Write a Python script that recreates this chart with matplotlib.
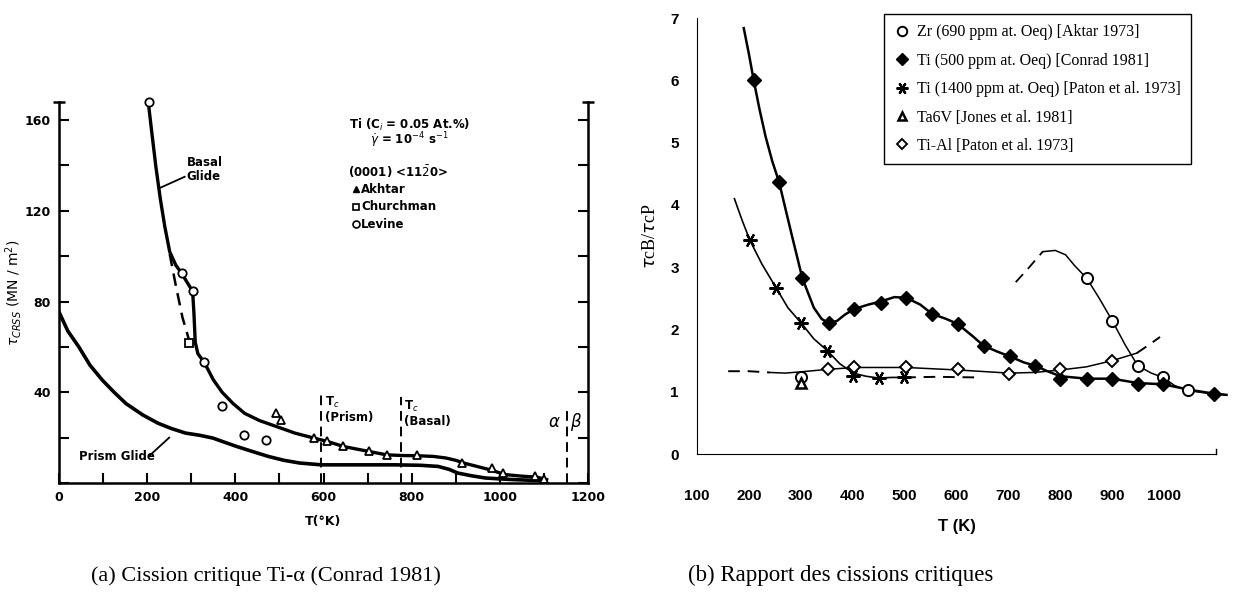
import numpy as np
import matplotlib.pyplot as plt

# ---------------- panel (a): critical resolved shear stress of alpha-Ti
basal_T = [203, 212, 220, 230, 240, 251, 265, 278, 292, 303, 306, 309, 315, 330, 350, 370, 395,
           421, 455, 493, 535, 578, 609, 645, 703, 743, 780, 815, 850, 878, 900, 918, 950,
           976, 1012, 1050, 1083, 1106]
basal_tau = [167, 152, 139, 125, 113, 102, 96, 92.5, 88, 84.6, 75, 62, 57, 53, 45.5, 40, 35,
             30.7, 27.5, 24.9, 22, 19.8, 18.3, 16.1, 13.9, 12.4, 12.1, 12, 11.7, 11, 10, 8.8, 7.2,
             5.9, 3.7, 3.0, 2.6, 1.5]
basal_dash_T = [251, 265, 280, 295, 309]
basal_dash_tau = [101, 87, 73, 63, 60]

prism_T = [0, 20, 45, 70, 98, 125, 152, 190, 224, 255, 287, 320, 349, 375, 403, 440, 475,
           510, 546, 595, 680, 761, 820, 860, 885, 904, 935, 967, 1000, 1030, 1070, 1101]
prism_tau = [75.4, 67, 60, 52, 45.4, 40, 35, 30, 26.4, 24, 22, 21, 19.8, 18, 16.1, 13.8, 11.7,
             10, 8.8, 8, 8, 8, 7.8, 7.3, 6, 4.4, 3.2, 2.2, 1.8, 1.5, 1.2, 1.0]

akhtar_T = [493, 503, 578, 607, 645, 703, 743, 813, 913, 981, 1007, 1079, 1101]
akhtar_tau = [30.7, 27.8, 19.8, 18.3, 16.1, 13.9, 12.4, 12.4, 8.8, 6.6, 4.4, 3.2, 1.8]
churchman_T = [295]
churchman_tau = [61.5]
levine_T = [204, 278, 303, 330, 370, 419, 470]
levine_tau = [168, 92.5, 84.6, 53.4, 34, 21.2, 19.0]

tc_prism, tc_basal, t_alpha_beta = 595, 775, 1152

# ---------------- panel (b): ratio tau_cB / tau_cP
ti500_line_T = [190, 200, 209, 220, 232, 245, 258, 270, 283, 303, 325, 340, 354, 370, 385, 403,
                430, 454, 480, 503, 530, 553, 580, 602, 630, 652, 680, 702, 730, 751, 775, 800,
                851, 900, 949, 998, 1050, 1096, 1120]
ti500_line_r = [6.84, 6.42, 6.01, 5.55, 5.1, 4.7, 4.37, 3.95, 3.5, 2.82, 2.35, 2.17, 2.10, 2.14,
                2.24, 2.33, 2.40, 2.45, 2.52, 2.51, 2.40, 2.25, 2.17, 2.09, 1.9, 1.74, 1.64,
                1.57, 1.47, 1.42, 1.33, 1.25, 1.21, 1.21, 1.14, 1.12, 1.03, 0.97, 0.95]
ti500_T = [209, 258, 303, 354, 403, 454, 503, 553, 602, 652, 702, 751, 800, 851, 900, 949,
           998, 1096]
ti500_r = [6.01, 4.37, 2.82, 2.10, 2.33, 2.43, 2.51, 2.25, 2.09, 1.74, 1.58, 1.42, 1.21, 1.21,
           1.21, 1.13, 1.13, 0.97]

zr_line_T = [766, 790, 810, 827, 851, 875, 900, 925, 949, 975, 998, 1020, 1045, 1080, 1120]
zr_line_r = [3.25, 3.27, 3.2, 3.03, 2.82, 2.5, 2.14, 1.75, 1.42, 1.3, 1.23, 1.1, 1.02, 0.98, 0.95]
zr_dash_T = [714, 740, 766]
zr_dash_r = [2.76, 3.0, 3.25]
zr_T = [300, 851, 900, 949, 998, 1045]
zr_r = [1.23, 2.82, 2.14, 1.42, 1.23, 1.03]

ti1400_line_T = [172, 187, 202, 225, 253, 275, 301, 325, 351, 375, 401, 425, 450, 475, 499]
ti1400_line_r = [4.10, 3.75, 3.43, 3.05, 2.66, 2.35, 2.10, 1.85, 1.66, 1.45, 1.30, 1.25, 1.22,
                 1.23, 1.23]
ti1400_dash_T = [499, 560, 642]
ti1400_dash_r = [1.23, 1.24, 1.23]
ti1400_T = [202, 253, 301, 351, 401, 450, 499]
ti1400_r = [3.43, 2.66, 2.10, 1.66, 1.26, 1.22, 1.24]

ta6v_T = [300]
ta6v_r = [1.14]

tial_dash1_T = [160, 200, 240]
tial_dash1_r = [1.33, 1.33, 1.31]
tial_line_T = [240, 270, 300, 352, 403, 503, 602, 701, 750, 800, 850, 900, 947]
tial_line_r = [1.31, 1.30, 1.32, 1.36, 1.39, 1.39, 1.35, 1.30, 1.31, 1.35, 1.40, 1.50, 1.62]
tial_dash2_T = [947, 970, 992]
tial_dash2_r = [1.62, 1.75, 1.88]
tial_T = [352, 403, 503, 602, 701, 800, 900]
tial_r = [1.37, 1.39, 1.40, 1.36, 1.29, 1.36, 1.50]

legend_labels = ["Zr (690 ppm at. Oeq) [Aktar 1973]",
                 "Ti (500 ppm at. Oeq) [Conrad 1981]",
                 "Ti (1400 ppm at. Oeq) [Paton et al. 1973]",
                 "Ta6V [Jones et al. 1981]",
                 "Ti-Al [Paton et al. 1973]"]


def main():
    fig = plt.figure(figsize=(12.37, 6.02), dpi=100)
    bold = dict(family="DejaVu Sans", fontweight="bold")
    serif = "Liberation Serif"

    # ======================= (a)
    ax = fig.add_axes([0.0477, 0.1977, 0.4277, 0.633])
    ax.set_xlim(0, 1200)
    ax.set_ylim(0, 168)
    ax.spines["top"].set_visible(False)
    for s in ax.spines.values():
        s.set_linewidth(1.8)
    ax.set_xticks(np.arange(0, 1201, 100))
    ax.set_xticklabels([str(v) if v % 200 == 0 else "" for v in range(0, 1201, 100)],
                       fontsize=9, **bold)
    ax.set_yticks(np.arange(0, 161, 20))
    ax.set_yticklabels([str(v) if v % 40 == 0 and v > 0 else "" for v in range(0, 161, 20)],
                       fontsize=9, **bold)
    ax.tick_params(direction="in", length=7, width=1.5, right=True, pad=6)
    ax.plot([0, 1200], [168, 168], ls="none", marker="_", ms=8, mew=1.8, color="k",
            clip_on=False)

    ax.plot(basal_T, basal_tau, color="k", lw=2.4)
    ax.plot(basal_dash_T, basal_dash_tau, color="k", lw=1.8, ls=(0, (5, 3)))
    ax.plot(prism_T, prism_tau, color="k", lw=2.6)
    ax.plot(akhtar_T, akhtar_tau, ls="none", marker="^", ms=6, mfc="white", mec="k", mew=1.3)
    ax.plot(churchman_T, churchman_tau, ls="none", marker="s", ms=6, mfc="white", mec="k", mew=1.3)
    ax.plot(levine_T, levine_tau, ls="none", marker="o", ms=6, mfc="white", mec="k", mew=1.3,
            clip_on=False)

    for xv, ytop in [(tc_prism, 40), (tc_basal, 38), (t_alpha_beta, 32)]:
        ax.plot([xv, xv], [0, ytop], color="k", lw=1.4, ls=(0, (5, 3)))
    ax.text(tc_prism + 8, 39, "T$_c$\n(Prism)", fontsize=8.5, va="top", linespacing=1.1, **bold)
    ax.text(tc_basal + 8, 37, "T$_c$\n(Basal)", fontsize=8.5, va="top", linespacing=1.1, **bold)
    ax.text(t_alpha_beta - 14, 27, r"$\alpha$", fontsize=12, ha="right", va="center")
    ax.text(t_alpha_beta + 8, 27, r"$\beta$", fontsize=12, ha="left", va="center")

    ax.text(290, 138, "Basal\nGlide", fontsize=8.5, va="center", linespacing=1.1, **bold)
    ax.plot([285, 228], [135, 130], color="k", lw=1.3)
    ax.text(45, 11.5, "Prism Glide", fontsize=8.5, va="center", **bold)
    ax.plot([205, 250], [12, 20], color="k", lw=1.3)

    ax.text(795, 158, "Ti (C$_i$ = 0.05 At.%)", fontsize=8.5, ha="center", va="center", **bold)
    ax.text(795, 151, r"$\dot{\gamma}$ = 10$^{-4}$ s$^{-1}$", fontsize=8.5, ha="center",
            va="center", **bold)
    ax.text(655, 137, r"(0001) <11$\bar{2}$0>", fontsize=8.5, va="center", **bold)
    ax.plot([673], [129.5], marker="^", ms=5, color="k", clip_on=False)
    ax.text(685, 129.5, "Akhtar", fontsize=8.5, va="center", **bold)
    ax.plot([673], [121.8], marker="s", ms=5, mfc="white", mec="k", mew=1.2)
    ax.text(685, 121.8, "Churchman", fontsize=8.5, va="center", **bold)
    ax.plot([673], [114], marker="o", ms=5, mfc="white", mec="k", mew=1.2)
    ax.text(685, 114, "Levine", fontsize=8.5, va="center", **bold)

    ax.set_xlabel("T(°K)", fontsize=9, labelpad=8, **bold)
    ax.set_ylabel(r"$\tau_{CRSS}$ (MN / m$^2$)", fontsize=10, labelpad=0)

    # ======================= (b)
    bx = fig.add_axes([0.5635, 0.2458, 0.4196, 0.724])
    bx.set_xlim(100, 1100)
    bx.set_ylim(0, 7)
    bx.spines["top"].set_visible(False)
    bx.spines["right"].set_visible(False)
    bx.set_xticks(np.arange(100, 1001, 100))
    bx.set_xticklabels([str(v) for v in range(100, 1001, 100)], fontsize=11,
                       family="Liberation Sans", fontweight="bold")
    bx.set_yticks(np.arange(0, 8, 1))
    bx.set_yticklabels([str(v) for v in range(8)], fontsize=11, family="Liberation Sans",
                       fontweight="bold")
    bx.tick_params(axis="x", length=0, pad=25)
    bx.tick_params(axis="y", length=0, pad=13)
    bx.plot([1100, 1100], [0, 0.08], color="k", lw=1, clip_on=False)

    bx.plot(ti500_line_T, ti500_line_r, color="k", lw=1.8, clip_on=False)
    bx.plot(zr_line_T, zr_line_r, color="k", lw=1.1, clip_on=False)
    bx.plot(zr_dash_T, zr_dash_r, color="k", lw=1.3, ls=(0, (6, 4)))
    bx.plot(ti1400_line_T, ti1400_line_r, color="k", lw=1.2)
    bx.plot(ti1400_dash_T, ti1400_dash_r, color="k", lw=1.4, ls=(0, (6, 4)))
    bx.plot(tial_dash1_T, tial_dash1_r, color="k", lw=1.4, ls=(0, (6, 4)))
    bx.plot(tial_line_T, tial_line_r, color="k", lw=1.1)
    bx.plot(tial_dash2_T, tial_dash2_r, color="k", lw=1.4, ls=(0, (6, 4)))

    bx.plot(zr_T, zr_r, ls="none", marker="o", ms=8, mfc="white", mec="k", mew=1.4,
            label=legend_labels[0])
    bx.plot(ti500_T, ti500_r, ls="none", marker="D", ms=7, color="k", label=legend_labels[1],
            clip_on=False)
    bx.plot(ti1400_T, ti1400_r, ls="none", marker=(6, 2, 90), ms=10, mec="k", mew=1.6,
            label=legend_labels[2])
    bx.plot(ta6v_T, ta6v_r, ls="none", marker="^", ms=7, mfc="white", mec="k", mew=1.8,
            label=legend_labels[3])
    bx.plot(tial_T, tial_r, ls="none", marker="D", ms=6.5, mfc="white", mec="k", mew=1.4,
            label=legend_labels[4])

    leg = bx.legend(loc="upper left", bbox_to_anchor=(0.7146, 0.977),
                    bbox_transform=fig.transFigure, prop={"family": serif, "size": 11.5},
                    frameon=True, fancybox=False, framealpha=1, edgecolor="k",
                    handlelength=1.0, handletextpad=0.4, labelspacing=0.78,
                    borderpad=0.65, borderaxespad=0, markerscale=0.85)
    leg.get_frame().set_linewidth(1.0)

    bx.set_xlabel("T (K)", fontsize=12, family="Liberation Sans", fontweight="bold",
                  labelpad=12)
    bx.set_ylabel(r"$\tau$cB/$\tau$cP", fontsize=13, family=serif, labelpad=8)

    fig.text(0.215, 0.035, "(a) Cission critique Ti-α (Conrad 1981)", fontsize=16,
             family=serif, ha="center")
    fig.text(0.68, 0.035, "(b) Rapport des cissions critiques", fontsize=16.5,
             family=serif, ha="center")

    fig.savefig("out.png", dpi=100)


if __name__ == '__main__':
    main()
